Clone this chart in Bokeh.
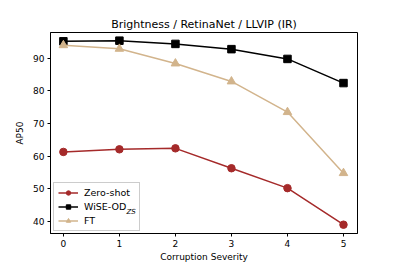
from bokeh.plotting import figure
from bokeh.models import Range1d, FixedTicker, Legend, LegendItem, Label
from bokeh.embed import file_html
from bokeh.resources import INLINE

severity = [0, 1, 2, 3, 4, 5]
zero_shot = [61.3, 62.1, 62.4, 56.3, 50.2, 39.0]
wise_od = [95.2, 95.4, 94.4, 92.8, 89.8, 82.4]
ft = [94.0, 92.9, 88.4, 82.9, 73.5, 54.8]
y_ticks = [40, 50, 60, 70, 80, 90]

FONT = "DejaVu Sans"

p = figure(width=397, height=264, output_backend="svg", toolbar_location=None,
           x_range=Range1d(-0.23, 5.25), y_range=Range1d(36.3, 97.9),
           min_border_left=50, min_border_right=40, min_border_top=32, min_border_bottom=30)
p.title.text = "Brightness / RetinaNet / LLVIP (IR)"
p.title.align = "center"
p.title.text_font = FONT
p.title.text_font_size = "11px"
p.title.text_font_style = "normal"
p.title.text_color = "black"
p.title.standoff = 4

p.xgrid.visible = False
p.ygrid.visible = False
p.outline_line_color = "black"
p.outline_line_width = 1

for ax in (p.xaxis, p.yaxis):
    ax.major_label_text_font = FONT
    ax.major_label_text_font_size = "9px"
    ax.major_label_text_color = "black"
    ax.axis_label_text_font = FONT
    ax.axis_label_text_font_size = "9px"
    ax.axis_label_text_font_style = "normal"
    ax.axis_label_text_color = "black"
    ax.minor_tick_line_color = None
    ax.major_tick_out = 3
    ax.major_tick_in = 0
    ax.major_tick_line_color = "black"
    ax.axis_line_color = "black"
p.xaxis.ticker = FixedTicker(ticks=severity)
p.yaxis.ticker = FixedTicker(ticks=y_ticks)
p.xaxis.axis_label = "Corruption Severity"
p.yaxis.axis_label = "AP50"
p.xaxis.axis_label_standoff = 2
p.yaxis.axis_label_standoff = 5
p.xaxis.major_label_standoff = 3
p.yaxis.major_label_standoff = 3

c_zs, c_w, c_ft = "#a52a2a", "#000000", "#d2b48c"
l1 = p.line(severity, zero_shot, color=c_zs, line_width=1.5)
m1 = p.scatter(severity, zero_shot, marker="circle", size=7.5, color=c_zs)
l2 = p.line(severity, wise_od, color=c_w, line_width=1.5)
m2 = p.scatter(severity, wise_od, marker="square", size=7.5, color=c_w)
l3 = p.line(severity, ft, color=c_ft, line_width=1.5)
m3 = p.scatter(severity, ft, marker="triangle", size=8.5, color=c_ft)

legend = Legend(items=[
    LegendItem(label="Zero-shot", renderers=[l1, m1]),
    LegendItem(label="WiSE-OD", renderers=[l2, m2]),
    LegendItem(label="FT", renderers=[l3, m3]),
], location=(3, 2))
legend.label_text_font = FONT
legend.label_text_font_size = "9.5px"
legend.label_text_color = "black"
legend.label_height = 11
legend.label_width = 51
legend.glyph_height = 11
legend.glyph_width = 20
legend.spacing = 3
legend.padding = 4
legend.margin = 0
legend.label_standoff = 6
legend.border_line_color = "#cccccc"
legend.border_line_alpha = 1
legend.background_fill_alpha = 0
p.add_layout(legend)

sub = Label(x=76, y=18, x_units="screen", y_units="screen", text="ZS",
            text_font=FONT, text_font_size="7px", text_font_style="italic",
            text_color="black", level="overlay")
p.add_layout(sub)

open("out.html", "w").write(file_html(p, INLINE))
